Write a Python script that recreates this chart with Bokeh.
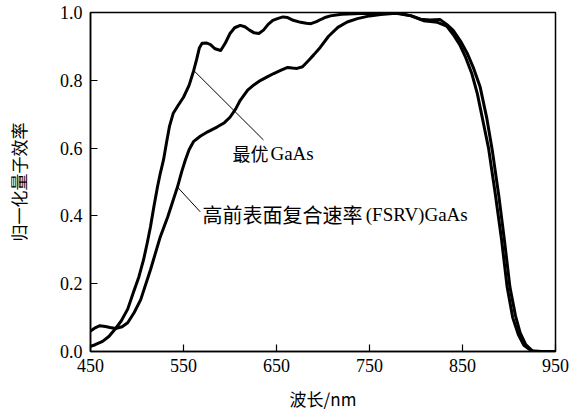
from bokeh.plotting import figure
from bokeh.models import Range1d, FixedTicker
from bokeh.core.properties import value
from bokeh.embed import file_html
from bokeh.resources import INLINE

# Optimal GaAs
opt_wl = [450, 455, 463, 470, 477, 483, 490, 496, 502, 507, 511, 514.5, 518, 522, 525, 528.5,
          532, 535, 539, 544, 550, 556, 561, 564, 567, 570, 575, 579, 584, 590, 595, 600,
          605, 611, 616, 621, 626, 631, 636, 641, 646, 651, 657, 662, 668, 676, 682, 687,
          693, 698, 703, 708, 720, 740, 760, 780, 795, 805, 815, 826, 833, 840, 848, 855,
          862, 869, 876, 882, 889, 895, 901, 907, 912, 918, 926, 950]
opt_qe = [0.015, 0.02, 0.03, 0.045, 0.068, 0.09, 0.125, 0.173, 0.22, 0.27, 0.32, 0.368, 0.425, 0.485, 0.525, 0.565,
          0.62, 0.665, 0.703, 0.725, 0.75, 0.785, 0.829, 0.86, 0.895, 0.909, 0.91, 0.905, 0.893, 0.888, 0.91, 0.938,
          0.955, 0.962, 0.958, 0.948, 0.94, 0.938, 0.948, 0.965, 0.977, 0.982, 0.987, 0.985, 0.977, 0.971, 0.968, 0.967,
          0.973, 0.98, 0.986, 0.99, 0.995, 0.997, 0.998, 0.997, 0.99, 0.98, 0.978, 0.979, 0.965, 0.947, 0.915, 0.88,
          0.835, 0.78, 0.69, 0.594, 0.46, 0.33, 0.19, 0.105, 0.055, 0.02, 0.0, 0.0]

# High front-surface recombination velocity GaAs
fsrv_wl = [450, 455, 460, 466, 471, 477, 484, 490, 497, 504, 514.5, 525, 533, 543.5, 548, 552,
           556, 561, 568, 576, 586, 594, 600, 606, 611, 619, 626, 633, 640, 647, 655, 662,
           667, 672, 678, 685, 690, 697, 706, 716, 726, 737, 750, 762, 775, 783, 795, 808,
           823, 833, 840, 847, 853, 860, 866, 872, 878, 885, 892, 898, 904, 910, 916, 924,
           935, 950]
fsrv_qe = [0.06, 0.07, 0.076, 0.074, 0.071, 0.068, 0.073, 0.085, 0.115, 0.153, 0.241, 0.338, 0.397, 0.485, 0.53, 0.565,
           0.595, 0.62, 0.635, 0.648, 0.662, 0.675, 0.691, 0.715, 0.741, 0.771, 0.787, 0.8, 0.81, 0.82, 0.83, 0.838,
           0.836, 0.835, 0.84, 0.86, 0.875, 0.897, 0.93, 0.956, 0.972, 0.982, 0.99, 0.994, 0.997, 0.997, 0.99, 0.976,
           0.971, 0.96, 0.935, 0.905, 0.87, 0.82, 0.76, 0.68, 0.6, 0.47, 0.33, 0.19, 0.1, 0.05, 0.018, 0.002,
           0.0, 0.0]

x_ticks = [450, 550, 650, 750, 850, 950]
y_ticks = [0.0, 0.2, 0.4, 0.6, 0.8, 1.0]

# annotation texts: CJK part and Latin part
opt_cjk = ["最优"]
opt_cjk_x = [602.7]
opt_lat = ["GaAs"]
opt_lat_x = [643.5]
opt_label_y = [0.585]
fsrv_cjk = ["高前表面复合速率"]
fsrv_cjk_x = [570.4]
fsrv_lat = ["(FSRV)GaAs"]
fsrv_lat_x = [746.0]
fsrv_label_y = [0.403]
lead_x0 = [561, 543.5]
lead_y0 = [0.829, 0.485]
lead_x1 = [636, 568]
lead_y1 = [0.624, 0.412]

p = figure(width=584, height=413, output_backend="svg", toolbar_location=None,
           x_range=Range1d(450, 950), y_range=Range1d(0, 1.0),
           min_border_left=90, min_border_right=29, min_border_top=12, min_border_bottom=61)

p.line(opt_wl, opt_qe, line_color="black", line_width=3, line_join="round")
p.line(fsrv_wl, fsrv_qe, line_color="black", line_width=3, line_join="round")

p.segment(x0=lead_x0, y0=lead_y0, x1=lead_x1, y1=lead_y1, line_color="black", line_width=1)
p.text(x=opt_cjk_x, y=opt_label_y, text=opt_cjk, text_font=value("Noto Sans CJK SC"),
       text_font_size="18px", text_baseline="middle", text_align="left", text_color="black")
p.text(x=opt_lat_x, y=opt_label_y, text=opt_lat, text_font=value("Liberation Serif"),
       text_font_size="19px", text_baseline="middle", text_align="left", text_color="black")
p.text(x=fsrv_cjk_x, y=fsrv_label_y, text=fsrv_cjk, text_font=value("Noto Sans CJK SC"),
       text_font_size="20px", text_baseline="middle", text_align="left", text_color="black")
p.text(x=fsrv_lat_x, y=fsrv_label_y, text=fsrv_lat, text_font=value("Liberation Serif"),
       text_font_size="19px", text_baseline="middle", text_align="left", text_color="black")

p.xgrid.visible = False
p.ygrid.visible = False
p.outline_line_color = "black"
p.outline_line_width = 1.5
p.outline_line_alpha = 1.0
p.background_fill_color = "white"
p.border_fill_color = "white"

p.xaxis.ticker = FixedTicker(ticks=x_ticks)
p.yaxis.ticker = FixedTicker(ticks=y_ticks)
p.yaxis.major_label_overrides = {t: f"{t:.1f}" for t in y_ticks}
for ax in (p.xaxis, p.yaxis):
    ax.major_tick_in = 7
    ax.major_tick_out = 0
    ax.minor_tick_in = 0
    ax.minor_tick_out = 0
    ax.axis_line_color = "black"
    ax.axis_line_width = 1.5
    ax.major_tick_line_color = "black"
    ax.major_tick_line_width = 1.2
    ax.major_label_text_font = "Liberation Serif"
    ax.major_label_text_font_size = "18px"
    ax.major_label_text_color = "black"
    ax.axis_label_text_font = "Noto Sans CJK SC"
    ax.axis_label_text_font_size = "17px"
    ax.axis_label_text_font_style = "normal"
    ax.axis_label_text_color = "black"

p.xaxis.axis_label = "波长/nm"
p.yaxis.axis_label = "归一化量子效率"
p.xaxis.major_label_standoff = 7
p.yaxis.major_label_standoff = 8
p.xaxis.axis_label_standoff = 11
p.yaxis.axis_label_standoff = 26

open("out.html", "w").write(file_html(p, INLINE))
